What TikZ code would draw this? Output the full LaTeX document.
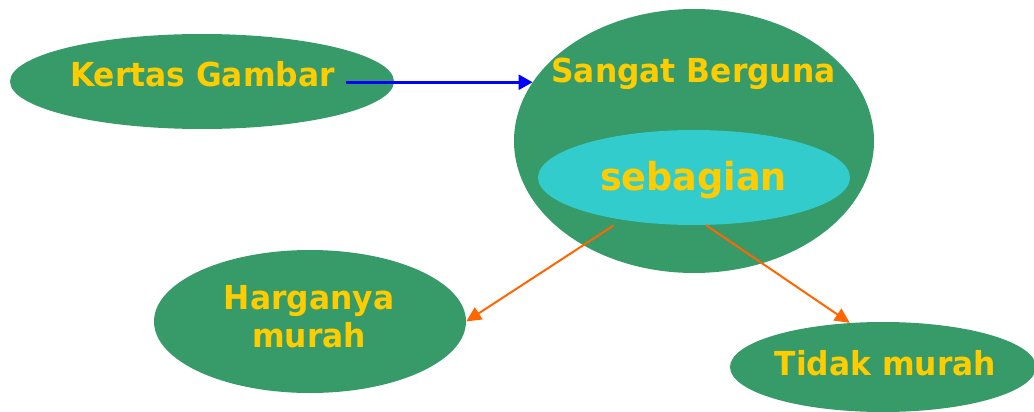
\documentclass[tikz,border=0pt]{standalone}
\usepackage{fontspec}
\setmainfont{DejaVu Sans}[FakeStretch=0.95]
\usetikzlibrary{shapes.geometric,arrows.meta}
\definecolor{daun}{HTML}{369A69}
\definecolor{toska}{HTML}{33CCCC}
\definecolor{kuning}{HTML}{FFCC00}
\definecolor{oranye}{HTML}{FF6600}
\tikzset{
  elips/.style={ellipse, fill=daun, inner sep=0pt},
  tulisan/.style={text=kuning, font=\bfseries\fontsize{33}{38}\selectfont, inner sep=0pt},
  panahbiru/.style={blue, line width=2.6pt, -{Triangle[length=14pt,width=15pt]}},
  panahoranye/.style={oranye, line width=2pt, -{Triangle[length=15pt,width=14pt]}}
}
\begin{document}
\begin{tikzpicture}[x=1pt,y=-1pt]
\useasboundingbox (0,0) rectangle (1034,412);
\node[elips, minimum width=384pt, minimum height=95pt] (kg) at (202,81.5) {};
\node[tulisan, anchor=base] (kgteks) at (202.5,87) {Kertas Gambar};
\node[elips, minimum width=360pt, minimum height=264pt] (sb) at (694,141) {};
\node[tulisan, anchor=base] (sbteks) at (693.5,83) {Sangat Berguna};
\node[elips, fill=toska, minimum width=312pt, minimum height=95pt] (sg) at (694,177.5) {};
\node[tulisan, anchor=base, font=\bfseries\fontsize{38.5}{44}\selectfont] (sgteks) at (693.5,190) {sebagian};
\node[elips, minimum width=312pt, minimum height=143pt] (hm) at (310,321.5) {};
\node[tulisan, align=center] (hmteks) at (309,317) {Harganya\\murah};
\node[elips, minimum width=306pt, minimum height=90pt] (tm) at (883,367) {};
\node[tulisan, anchor=base] (tmteks) at (885.5,375) {Tidak murah};
\coordinate (mulai) at ([xshift=11pt]kgteks.east);
\draw[panahbiru] (mulai |- sb.160) -- (sb.160);
\draw[panahoranye] ([yshift=-7pt]sg.207) -- (hm.east);
\draw[panahoranye] (sg.284) -- (tm.127);
\end{tikzpicture}
\end{document}
